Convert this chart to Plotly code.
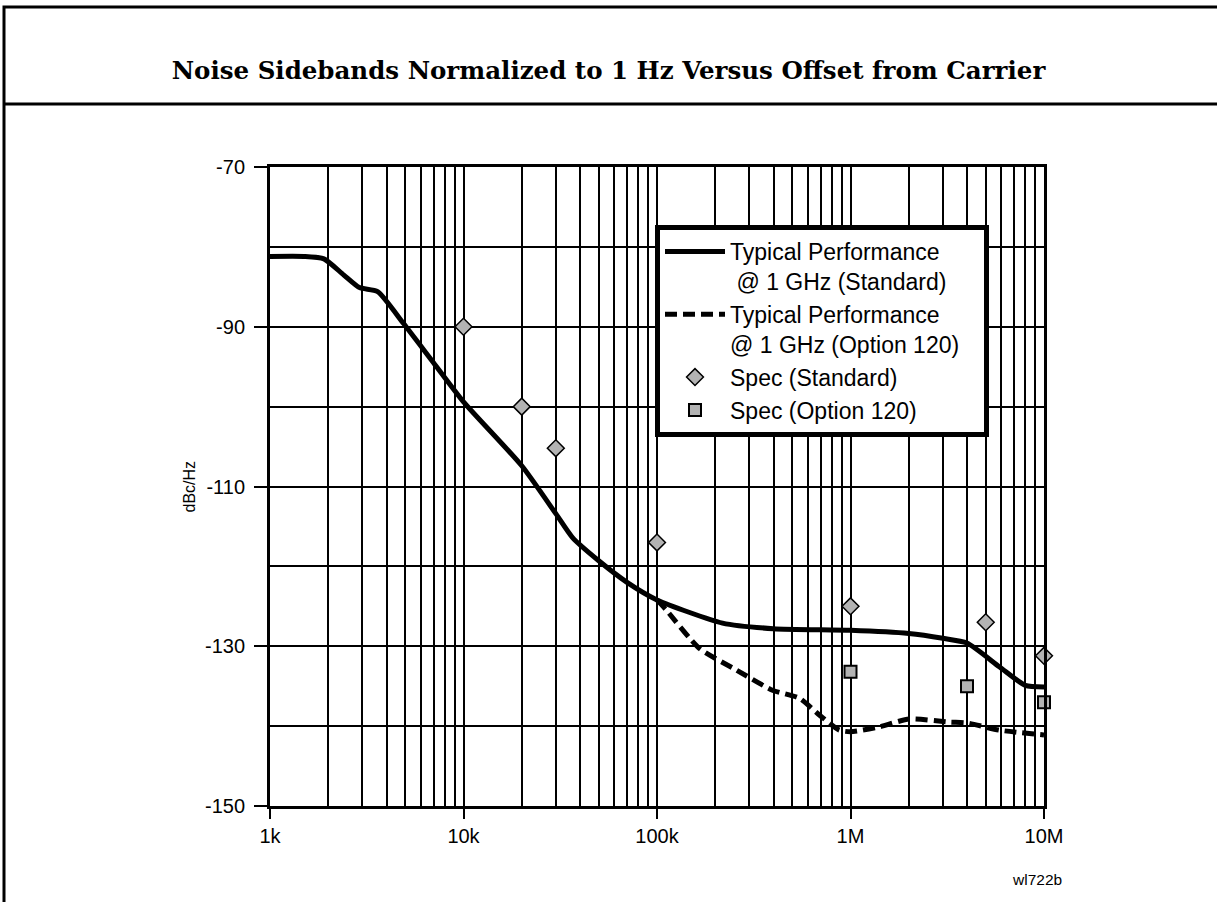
import plotly.graph_objects as go

# Typical performance @ 1 GHz, standard (solid)
std_freq = [1000, 1500, 1900, 2400, 2900, 3600, 4900, 7000, 10000, 20000, 30000,
            36600, 50000, 70000, 100000, 218000, 400000, 1000000, 2000000,
            3000000, 4000000, 5900000, 8000000, 10000000]
std_dbc = [-81.2, -81.2, -81.5, -83.5, -85.1, -85.6, -89.6, -94.5, -99.4, -107.4,
           -113.4, -116.4, -119.3, -122.0, -124.2, -127.1, -127.8, -128.0, -128.4,
           -129.0, -129.6, -132.6, -134.9, -135.1]

# Typical performance @ 1 GHz, option 120 (dashed)
opt_freq = [100000, 112000, 166000, 250000, 395000, 543000, 690000, 875000,
            1000000, 1410000, 2010000, 3240000, 4000000, 5860000, 10000000]
opt_dbc = [-124.2, -125.5, -130.3, -132.8, -135.5, -136.5, -138.6, -140.5,
           -140.7, -140.1, -139.1, -139.5, -139.6, -140.5, -141.1]

# Spec points
spec_std_freq = [10000, 20000, 30000, 100000, 1000000, 5000000, 10000000]
spec_std_dbc = [-90, -100, -105.2, -117, -125, -127, -131.2]
spec_opt_freq = [1000000, 4000000, 10000000]
spec_opt_dbc = [-133.2, -135, -137]

x_tickvals = [1e3, 1e4, 1e5, 1e6, 1e7]
x_ticktext = ["1k", "10k", "100k", "1M", "10M"]
x_minor = [m * 10 ** e for e in range(3, 7) for m in range(2, 10)]
y_tickvals = [-150, -130, -110, -90, -70]
y_ticktext = ["-150", "-130", "-110", "-90", "-70"]
y_minor = [-140, -120, -100, -80]

FONT = "Liberation Sans, Arial, sans-serif"
NBSP = "\u00a0"

fig = go.Figure()

fig.add_trace(go.Scatter(
    x=std_freq, y=std_dbc, mode="lines",
    name=f"Typical Performance<br>{NBSP}@ 1 GHz (Standard)",
    line=dict(color="black", width=5, shape="spline", smoothing=0.6),
))
fig.add_trace(go.Scatter(
    x=opt_freq, y=opt_dbc, mode="lines",
    name=f"Typical Performance<br>@ 1 GHz (Option 120){NBSP * 3}",
    line=dict(color="black", width=5, dash="12px,6px", shape="spline", smoothing=0.6),
))
fig.add_trace(go.Scatter(
    x=spec_std_freq, y=spec_std_dbc, mode="markers",
    name="Spec (Standard)", cliponaxis=False,
    marker=dict(symbol="diamond", size=13, color="#b3b3b3",
                line=dict(color="black", width=1.5)),
))
fig.add_trace(go.Scatter(
    x=spec_opt_freq, y=spec_opt_dbc, mode="markers",
    name="Spec (Option 120)", cliponaxis=False,
    marker=dict(symbol="square", size=12, color="#b3b3b3",
                line=dict(color="black", width=2)),
))

# plot area: x 270..1044, y 167..806 px
def px(x):
    return (x - 270) / 774

def py(y):
    return (806 - y) / 639

# outer frame and title separator
fig.add_shape(type="rect", xref="paper", yref="paper",
              x0=px(4), x1=px(1230), y0=py(7), y1=py(915),
              line=dict(color="black", width=3), layer="below")
fig.add_shape(type="line", xref="paper", yref="paper",
              x0=px(4), x1=px(1230), y0=py(104), y1=py(104),
              line=dict(color="black", width=3))

fig.add_annotation(
    text="dBc/Hz", xref="paper", yref="paper", x=px(189), y=0.5,
    xanchor="center", yanchor="middle",
    textangle=-90, showarrow=False, font=dict(family=FONT, size=16, color="black"),
)
fig.add_annotation(
    text="wl722b", xref="paper", yref="paper", x=px(1037), y=py(880),
    xanchor="center", yanchor="middle",
    showarrow=False, font=dict(family=FONT, size=15.5, color="black"),
)

fig.update_layout(
    width=1217, height=902,
    margin=dict(l=270, r=173, t=167, b=96),
    paper_bgcolor="white", plot_bgcolor="white",
    title=dict(
        text="<b>Noise Sidebands Normalized to 1 Hz Versus Offset from Carrier</b>",
        x=0.5, xref="container", xanchor="center",
        y=1 - 70 / 902, yref="container", yanchor="middle",
        font=dict(family="DejaVu Serif, serif", size=24.5, color="black"),
    ),
    font=dict(family=FONT, size=20, color="black"),
    showlegend=True,
    legend=dict(
        x=px(655), y=py(225), xanchor="left", yanchor="top",
        bgcolor="white", bordercolor="black", borderwidth=5,
        font=dict(family=FONT, size=23, color="black"),
        valign="top", tracegroupgap=0, itemwidth=60,
    ),
    xaxis=dict(
        type="log", range=[3, 7],
        tickvals=x_tickvals, ticktext=x_ticktext,
        ticks="outside", ticklen=10, tickwidth=2, tickcolor="black",
        showgrid=True, gridcolor="black", gridwidth=2,
        showline=True, linecolor="black", linewidth=3, mirror=True,
        zeroline=False,
        minor=dict(tickvals=x_minor, showgrid=True, gridcolor="black",
                   gridwidth=2, ticks=""),
        tickfont=dict(family=FONT, size=20, color="black"),
    ),
    yaxis=dict(
        range=[-150, -70],
        tickvals=y_tickvals, ticktext=y_ticktext,
        ticks="outside", ticklen=13, tickwidth=2, tickcolor="black",
        ticklabelstandoff=5,
        showgrid=True, gridcolor="black", gridwidth=2,
        showline=True, linecolor="black", linewidth=3, mirror=True,
        zeroline=False,
        minor=dict(tickvals=y_minor, showgrid=True, gridcolor="black",
                   gridwidth=2, ticks=""),
        tickfont=dict(family=FONT, size=20, color="black"),
    ),
)

# page body has a default 8px margin; drop it so the figure sits at 0,0
fig.write_html("out.html", config={"displayModeBar": False},
               post_script="document.body.style.margin='0';")
